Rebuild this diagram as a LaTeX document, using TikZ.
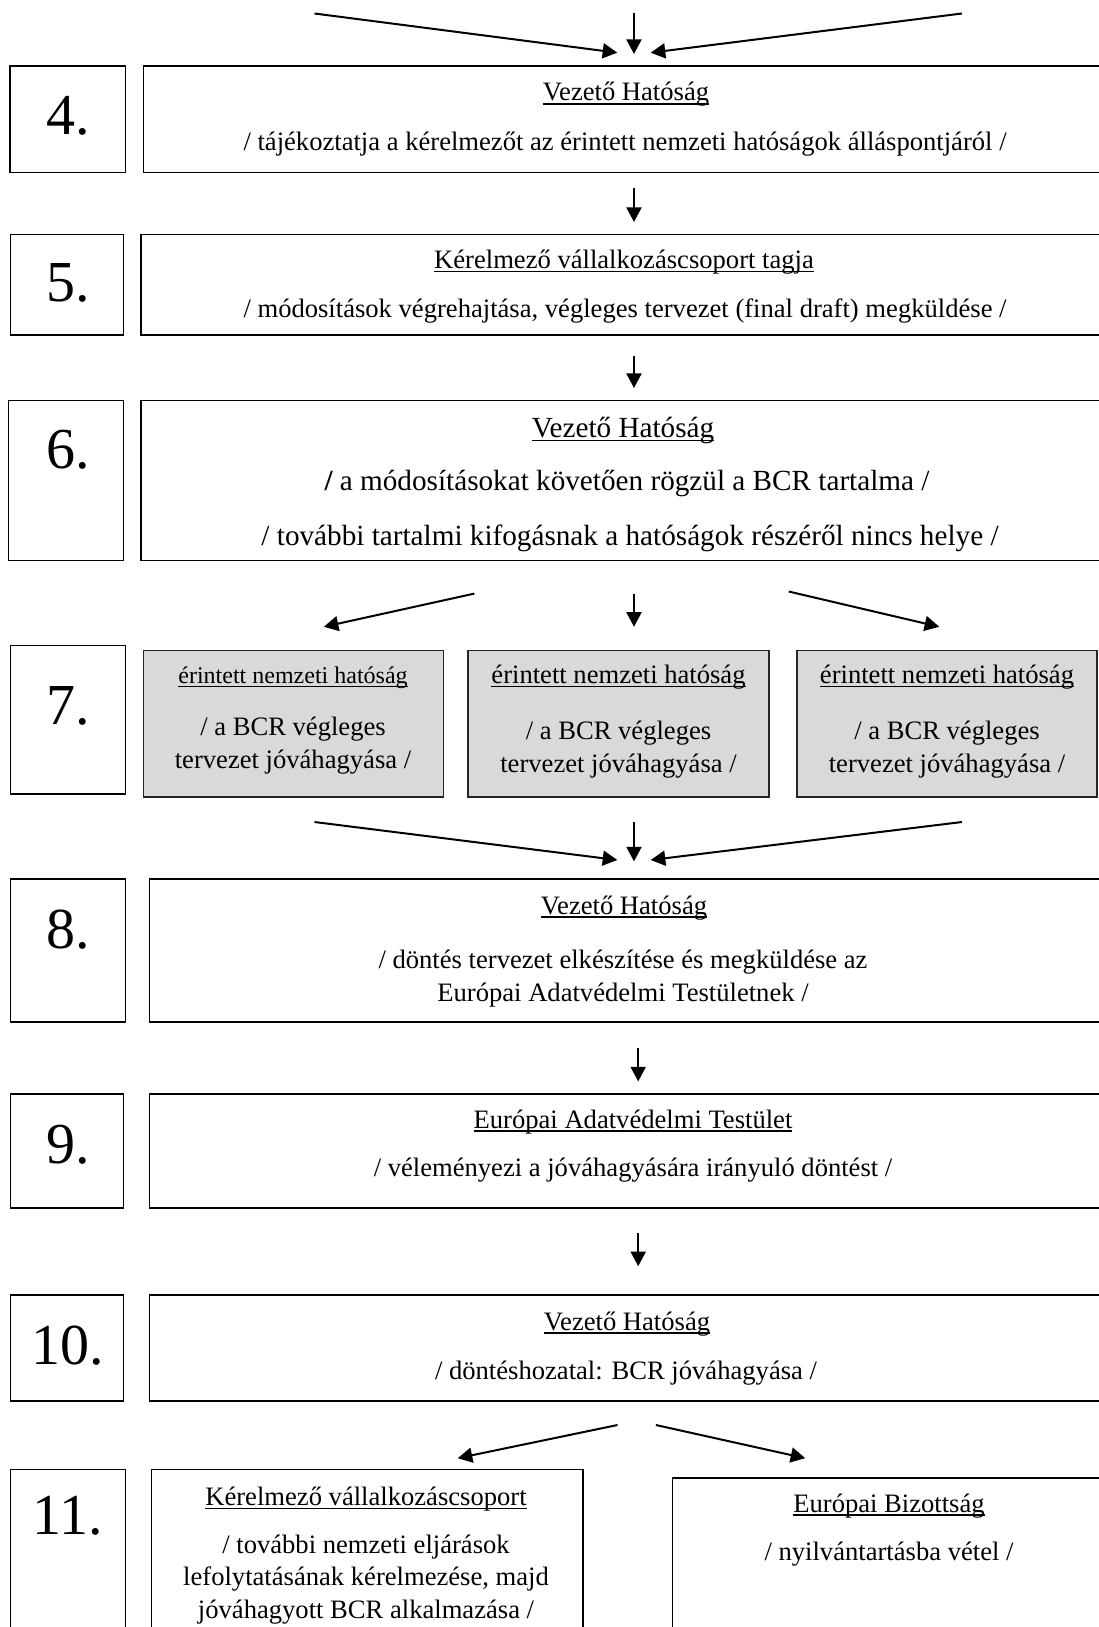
\documentclass[tikz,border=0pt]{standalone}
\usepackage{fontspec}
\setmainfont{Liberation Serif}
\usetikzlibrary{arrows.meta,fit}
\newcommand\hdr[1]{\setbox0\hbox{#1}\rlap{\rule[-1.8pt]{\wd0}{0.75pt}}\box0}
\tikzset{
  box/.style={draw=black, line width=0.75pt, inner sep=0pt},
  graybox/.style={draw=black!85, fill=black!15, line width=0.6pt, inner sep=0pt},
  num/.style={font=\fontsize{29}{34}\selectfont, inner sep=0pt, anchor=base},
  txt/.style={font=\fontsize{13.3}{16.6}\selectfont, inner sep=0pt, anchor=base},
  bigtxt/.style={font=\fontsize{14.6}{18}\selectfont, inner sep=0pt, anchor=base},
  smalltxt/.style={font=\fontsize{12}{15}\selectfont, inner sep=0pt, anchor=base},
  arr/.style={line width=1pt, -{Triangle[length=7.3pt,width=7.5pt]}}
}
\begin{document}
\begin{tikzpicture}[x=0.5pt,y=-0.5pt]
\useasboundingbox (0,0) rectangle (1098,1627);

% ---------- arrow end points ----------
\coordinate (t1s) at (314.5,13.5); \coordinate (t1e) at (617.3,52.7);
\coordinate (t2s) at (634,13.5);   \coordinate (t2e) at (634,54);
\coordinate (t3s) at (962,13.5);   \coordinate (t3e) at (650.7,52.7);
\coordinate (a45s) at (634,188);   \coordinate (a45e) at (634,222);
\coordinate (a56s) at (634,356);   \coordinate (a56e) at (634,388);
\coordinate (a67as) at (474.3,593.6); \coordinate (a67ae) at (323.8,626.8);
\coordinate (a67bs) at (634,593.6);   \coordinate (a67be) at (634,626.8);
\coordinate (a67cs) at (788.7,591.5); \coordinate (a67ce) at (939.2,626.8);
\coordinate (a78as) at (314.5,822);   \coordinate (a78ae) at (617.3,860);
\coordinate (a78bs) at (634,822);     \coordinate (a78be) at (634,861.4);
\coordinate (a78cs) at (962,822);     \coordinate (a78ce) at (650.7,860);
\coordinate (a89s) at (638.2,1048);   \coordinate (a89e) at (638.2,1081.4);
\coordinate (a910s) at (638.2,1233);  \coordinate (a910e) at (638.2,1266.2);
\coordinate (a1011as) at (617.5,1425); \coordinate (a1011ae) at (457.7,1458.2);
\coordinate (a1011bs) at (655.9,1425); \coordinate (a1011be) at (805.3,1458.2);

% ---------- boxes ----------
\node[box, fit={(10,66)(125.6,172.5)}] (l4) {};
\node[box, fit={(143.3,66)(1110,172.5)}] (m4) {};
\node[box, fit={(10.4,234.5)(123.5,335.2)}] (l5) {};
\node[box, fit={(141.1,234.5)(1110,335.2)}] (m5) {};
\node[box, fit={(8.3,400.6)(123.5,560.4)}] (l6) {};
\node[box, fit={(141.1,400.6)(1110,560.4)}] (m6) {};
\node[box, fit={(10.4,645.5)(125.6,793.9)}] (l7) {};
\node[graybox, fit={(143.2,650.7)(443.1,797)}] (g1) {};
\node[graybox, fit={(468,650.7)(769,797)}] (g2) {};
\node[graybox, fit={(797,650.7)(1097,797)}] (g3) {};
\node[box, fit={(10.4,879)(125.6,1022.2)}] (l8) {};
\node[box, fit={(149.4,879)(1110,1022.2)}] (m8) {};
\node[box, fit={(10.4,1093.8)(123.5,1208)}] (l9) {};
\node[box, fit={(149.4,1093.8)(1110,1208)}] (m9) {};
\node[box, fit={(10.4,1295.2)(123.5,1401)}] (l10) {};
\node[box, fit={(149.4,1295.2)(1110,1401)}] (m10) {};
\node[box, fit={(10.4,1469.5)(125.6,1645)}] (l11) {};
\node[box, fit={(151.5,1469.5)(583.2,1645)}] (m11a) {};
\node[box, fit={(672.5,1477.8)(1110,1645)}] (m11b) {};

% ---------- numbers ----------
\node[num] (n4) at (68,134) {4.};
\node[num] (n5) at (68,301) {5.};
\node[num] (n6) at (68,468) {6.};
\node[num] (n7) at (68,724) {7.};
\node[num] (n8) at (68,948) {8.};
\node[num] (n9) at (68,1163) {9.};
\node[num] (n10) at (68,1364) {10.};
\node[num] (n11) at (68,1534) {11.};

% ---------- texts ----------
\node[txt] (h4) at (626,101) {\hdr{Vezető Hatóság}};
\node[txt] (t4) at (625,150) {/ tájékoztatja a kérelmezőt az érintett nemzeti hatóságok álláspontjáról /};

\node[txt] (h5) at (624,268.5) {\hdr{Kérelmező vállalkozáscsoport tagja}};
\node[txt] (t5) at (625,317) {/ módosítások végrehajtása, végleges tervezet (final draft) megküldése /};

\node[bigtxt] (h6) at (623,437.5) {\hdr{Vezető Hatóság}};
\node[bigtxt] (t6a) at (627,490.5) {{\bfseries /} a módosításokat követően rögzül a BCR tartalma /};
\node[bigtxt] (t6b) at (630,545.5) {/ további tartalmi kifogásnak a hatóságok részéről nincs helye /};

\node[smalltxt] (h7a) at (293,683.5) {\hdr{érintett nemzeti hatóság}};
\node[txt] (t7a1) at (293,735.5) {/ a BCR végleges};
\node[txt] (t7a2) at (293,768.7) {tervezet jóváhagyása /};
\node[txt] (h7b) at (618.5,683.5) {\hdr{érintett nemzeti hatóság}};
\node[txt] (t7b1) at (618.5,739.6) {/ a BCR végleges};
\node[txt] (t7b2) at (618.5,772.8) {tervezet jóváhagyása /};
\node[txt] (h7c) at (947,683.5) {\hdr{érintett nemzeti hatóság}};
\node[txt] (t7c1) at (947,739.6) {/ a BCR végleges};
\node[txt] (t7c2) at (947,772.8) {tervezet jóváhagyása /};

\node[txt] (h8) at (624,914) {\hdr{Vezető Hatóság}};
\node[txt] (t8a) at (623,968) {/ döntés tervezet elkészítése és megküldése az};
\node[txt] (t8b) at (623,1001) {Európai Adatvédelmi Testületnek /};

\node[txt] (h9) at (633,1128) {\hdr{Európai Adatvédelmi Testület}};
\node[txt] (t9) at (633,1176.5) {/ véleményezi a jóváhagyására irányuló döntést /};

\node[txt] (h10) at (627,1330) {\hdr{Vezető Hatóság}};
\node[txt] (t10) at (626,1379) {/ döntéshozatal: BCR jóváhagyása /};

\node[txt] (h11a) at (366,1505.5) {\hdr{Kérelmező vállalkozáscsoport}};
\node[txt] (t11a1) at (366,1553.5) {/ további nemzeti eljárások};
\node[txt] (t11a2) at (366,1585.6) {lefolytatásának kérelmezése, majd};
\node[txt] (t11a3) at (366,1618.6) {jóváhagyott BCR alkalmazása /};
\node[txt] (h11b) at (889,1512) {\hdr{Európai Bizottság}};
\node[txt] (t11b) at (889,1560.6) {/ nyilvántartásba vétel /};

% ---------- arrows ----------
\draw[arr] (t1s) -- (t1e);
\draw[arr] (t2s) -- (t2e);
\draw[arr] (t3s) -- (t3e);
\draw[arr] (a45s) -- (a45e);
\draw[arr] (a56s) -- (a56e);
\draw[arr] (a67as) -- (a67ae);
\draw[arr] (a67bs) -- (a67be);
\draw[arr] (a67cs) -- (a67ce);
\draw[arr] (a78as) -- (a78ae);
\draw[arr] (a78bs) -- (a78be);
\draw[arr] (a78cs) -- (a78ce);
\draw[arr] (a89s) -- (a89e);
\draw[arr] (a910s) -- (a910e);
\draw[arr] (a1011as) -- (a1011ae);
\draw[arr] (a1011bs) -- (a1011be);
\end{tikzpicture}
\end{document}
